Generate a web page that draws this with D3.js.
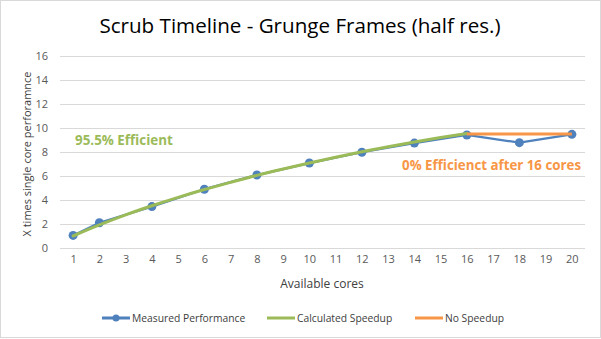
<!DOCTYPE html>
<html>
<head>
<meta charset="utf-8">
<script src="https://cdn.jsdelivr.net/npm/d3@7"></script>
<style>
  html, body { margin: 0; padding: 0; background: #fff; }
  svg { display: block; }
  text { font-family: "Open Sans", "Noto Sans", sans-serif; }
</style>
</head>
<body>
<svg id="chart" width="601" height="339"></svg>
<script>
// Categories on the x axis (cores)
const categories = ["1","2","3","4","5","6","7","8","9","10","11","12","13","14","15","16","17","18","19","20"];
// Measured performance (only sampled at some core counts)
const measuredCores = ["1","2","4","6","8","10","12","14","16","18","20"];
const measuredValues = [1.05, 2.1, 3.45, 4.9, 6.08, 7.08, 7.98, 8.74, 9.42, 8.78, 9.47];
// Calculated speedup curve, 1..16 cores
const calcCores = ["1","2","3","4","5","6","7","8","9","10","11","12","13","14","15","16"];
const calcValues = [1.0, 1.92, 2.76, 3.52, 4.22, 4.87, 5.47, 6.05, 6.58, 7.08, 7.56, 8.02, 8.44, 8.84, 9.21, 9.55];
// Flat line: no speedup beyond 16 cores
const flatCores = ["16","17","18","19","20"];
const flatValues = [9.5, 9.5, 9.5, 9.5, 9.5];
const yTicks = [0, 2, 4, 6, 8, 10, 12, 14, 16];

const W = 601, H = 339;
const plot = { left: 60, right: 585, top: 56, bottom: 248 };
const svg = d3.select("#chart");

// chart frame
svg.append("rect").attr("x", 0.5).attr("y", 0.5).attr("width", W - 1).attr("height", H - 2)
  .attr("fill", "#fff").attr("stroke", "#d9d9d9");

const x = d3.scalePoint().domain(categories).range([plot.left, plot.right]).padding(0.5);
const y = d3.scaleLinear().domain([0, 16]).range([plot.bottom, plot.top]);

// horizontal gridlines
svg.append("g").selectAll("line").data(yTicks).join("line")
  .attr("x1", plot.left).attr("x2", plot.right)
  .attr("y1", d => Math.round(y(d)) + 0.5).attr("y2", d => Math.round(y(d)) + 0.5)
  .attr("stroke", "#d9d9d9").attr("stroke-width", 1);

// y axis labels
const yAxis = d3.axisLeft(y).tickValues(yTicks).tickSize(0).tickPadding(0);
svg.append("g").attr("transform", `translate(${plot.left - 12},0)`).call(yAxis)
  .call(g => g.select(".domain").remove())
  .selectAll("text").attr("fill", "#595959").attr("font-size", 11).attr("dy", "0.35em");

// x axis labels
const xAxis = d3.axisBottom(x).tickSize(0).tickPadding(0);
svg.append("g").attr("transform", `translate(0,${plot.bottom + 7})`).call(xAxis)
  .call(g => g.select(".domain").remove())
  .selectAll("text").attr("fill", "#595959").attr("font-size", 11).attr("dy", "0.71em");

const line = d3.line().x(d => x(d[0])).y(d => y(d[1]));
const curved = d3.line().x(d => x(d[0])).y(d => y(d[1])).curve(d3.curveMonotoneX);

// measured series
const measured = measuredCores.map((c, i) => [c, measuredValues[i]]);
svg.append("path").datum(measured).attr("d", line)
  .attr("fill", "none").attr("stroke", "#4f81bd").attr("stroke-width", 2.25).attr("stroke-linejoin", "round");
svg.append("g").selectAll("circle").data(measured).join("circle")
  .attr("cx", d => x(d[0])).attr("cy", d => y(d[1])).attr("r", 4.5)
  .attr("fill", "#4f81bd");

// calculated speedup
const calc = calcCores.map((c, i) => [c, calcValues[i]]);
svg.append("path").datum(calc).attr("d", curved)
  .attr("fill", "none").attr("stroke", "#9bbb59").attr("stroke-width", 3).attr("stroke-linecap", "round");

// no speedup
const flat = flatCores.map((c, i) => [c, flatValues[i]]);
svg.append("path").datum(flat).attr("d", line)
  .attr("fill", "none").attr("stroke", "#f79646").attr("stroke-width", 3);

// title
svg.append("text").attr("x", 300).attr("y", 33).attr("text-anchor", "middle")
  .attr("font-size", 20.6).attr("fill", "#000")
  .text("Scrub Timeline - Grunge Frames (half res.)");

// axis titles
svg.append("text").attr("transform", "translate(31,154) rotate(-90)").attr("text-anchor", "middle")
  .attr("font-size", 11).attr("fill", "#404040").text("X times single core perforamnce");
svg.append("text").attr("x", 322).attr("y", 288).attr("text-anchor", "middle")
  .attr("font-size", 12).attr("fill", "#404040").text("Available cores");

// annotations
svg.append("text").attr("x", 75).attr("y", 145).attr("font-size", 13.4).attr("font-weight", "bold")
  .attr("fill", "#9bbb59").text("95.5% Efficient");
svg.append("text").attr("x", 581).attr("y", 170).attr("text-anchor", "end").attr("font-size", 13.3)
  .attr("font-weight", "bold").attr("fill", "#f79646").text("0% Efficienct after 16 cores");

// legend
const legend = [
  { name: "Measured Performance", color: "#4f81bd", marker: true, x: 102 },
  { name: "Calculated Speedup", color: "#9bbb59", marker: false, x: 267 },
  { name: "No Speedup", color: "#f79646", marker: false, x: 415 }
];
const lg = svg.append("g").selectAll("g").data(legend).join("g")
  .attr("transform", d => `translate(${d.x},318)`);
lg.append("line").attr("x1", 0).attr("x2", 28).attr("y1", 0).attr("y2", 0)
  .attr("stroke", d => d.color).attr("stroke-width", 3);
lg.filter(d => d.marker).append("circle").attr("cx", 14).attr("cy", 0).attr("r", 3.5).attr("fill", d => d.color);
lg.append("text").attr("x", 30).attr("y", 0).attr("dy", "0.35em").attr("font-size", 10.3)
  .attr("fill", "#404040").text(d => d.name);
</script>
</body>
</html>
